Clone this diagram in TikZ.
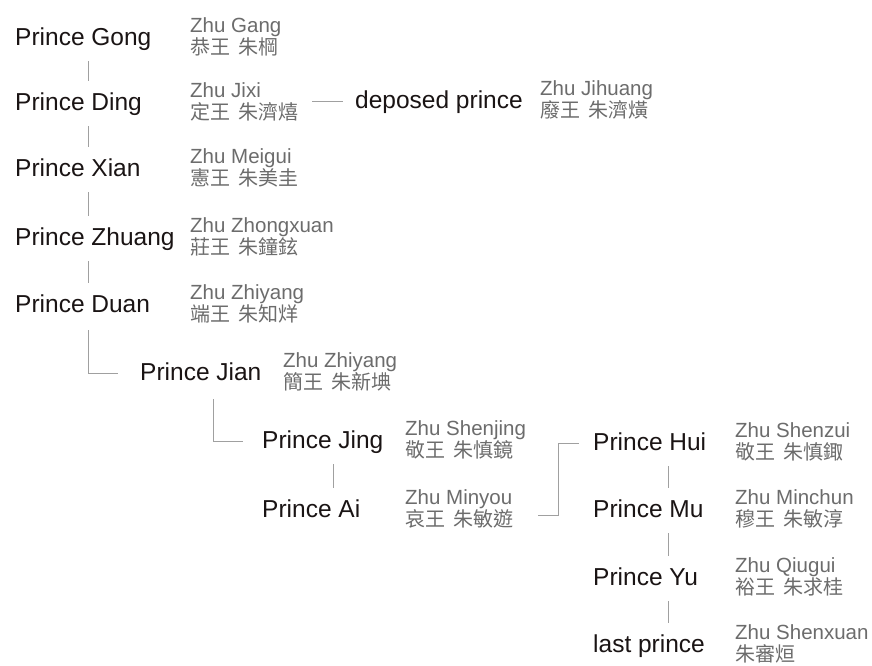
\documentclass[tikz,border=0pt]{standalone}
\usepackage{fontspec}
\setmainfont{Liberation Sans}
\newfontfamily\cjk{Noto Sans CJK TC}[WordSpace=1.8]
\definecolor{ink}{HTML}{1A1414}
\definecolor{grey}{HTML}{6C6C6C}
\definecolor{linegrey}{HTML}{A0A0A0}
\tikzset{
  prince/.style={anchor=base west, inner sep=0pt, text height=18pt, text depth=5pt, text=ink, font=\fontsize{24.5}{29}\selectfont},
  latname/.style={anchor=base west, inner sep=0pt, text=grey, font=\fontsize{20.5}{24}\selectfont},
  hanname/.style={anchor=base west, inner sep=0pt, text=grey, font=\cjk\fontsize{20}{24}\selectfont},
  link/.style={draw=linegrey, line width=1pt},
  vlink/.style={link, shorten <=11pt, shorten >=11pt},
}
\begin{document}
\begin{tikzpicture}[x=1pt,y=-1pt]
\fill[white] (0,0) rectangle (872,665);
\useasboundingbox (0,0) rectangle (872,665);

% main column
\node[prince] (gong) at (15,45) {Prince Gong};
\node[latname] (gongEn) at (190,32.5) {Zhu Gang};
\node[hanname] (gongZh) at (190,54) {恭王 朱棡};

\node[prince] (ding) at (15,110) {Prince Ding};
\node[latname] (dingEn) at (190,97.5) {Zhu Jixi};
\node[hanname] (dingZh) at (190,119) {定王 朱濟熺};

\node[prince] (xian) at (15,176) {Prince Xian};
\node[latname] (xianEn) at (190,163.5) {Zhu Meigui};
\node[hanname] (xianZh) at (190,185) {憲王 朱美圭};

\node[prince] (zhuang) at (15,245) {Prince Zhuang};
\node[latname] (zhuangEn) at (190,232.5) {Zhu Zhongxuan};
\node[hanname] (zhuangZh) at (190,254) {莊王 朱鐘鉉};

\node[prince] (duan) at (15,312) {Prince Duan};
\node[latname] (duanEn) at (190,299.5) {Zhu Zhiyang};
\node[hanname] (duanZh) at (190,321) {端王 朱知烊};

\node[prince] (jian) at (140,380) {Prince Jian};
\node[latname] (jianEn) at (283,367.5) {Zhu Zhiyang};
\node[hanname] (jianZh) at (283,389) {簡王 朱新㙉};

\node[prince] (jing) at (262,448) {Prince Jing};
\node[latname] (jingEn) at (405,435.5) {Zhu Shenjing};
\node[hanname] (jingZh) at (405,457) {敬王 朱慎鏡};

\node[prince] (ai) at (262,517) {Prince Ai};
\node[latname] (aiEn) at (405,504.5) {Zhu Minyou};
\node[hanname] (aiZh) at (405,526) {哀王 朱敏遊};

% deposed branch
\node[prince] (deposed) at (355,108) {deposed prince};
\node[latname] (deposedEn) at (540,95.5) {Zhu Jihuang};
\node[hanname] (deposedZh) at (540,117) {廢王 朱濟熿};

% right column
\node[prince] (hui) at (593,450) {Prince Hui};
\node[latname] (huiEn) at (735,437.5) {Zhu Shenzui};
\node[hanname] (huiZh) at (735,459) {敬王 朱慎鋷};

\node[prince] (mu) at (593,517) {Prince Mu};
\node[latname] (muEn) at (735,504.5) {Zhu Minchun};
\node[hanname] (muZh) at (735,526) {穆王 朱敏淳};

\node[prince] (yu) at (593,585) {Prince Yu};
\node[latname] (yuEn) at (735,572.5) {Zhu Qiugui};
\node[hanname] (yuZh) at (735,594) {裕王 朱求桂};

\node[prince] (last) at (593,652) {last prince};
\node[latname] (lastEn) at (735,639.5) {Zhu Shenxuan};
\node[hanname] (lastZh) at (735,661) {朱審烜};

% connector guides
\coordinate (colA) at (88,0);
\coordinate (colJ) at (213,0);
\coordinate (colB) at (333,0);
\coordinate (hubX) at (558,0);
\coordinate (colC) at (668,0);
\coordinate (aiOut) at (538,515);

% connectors
\draw[vlink] (gong.south -| colA) -- (ding.north -| colA);
\draw[vlink] (ding.south -| colA) -- (xian.north -| colA);
\draw[vlink] (xian.south -| colA) -- (zhuang.north -| colA);
\draw[vlink] (zhuang.south -| colA) -- (duan.north -| colA);
\draw[link, shorten <=13pt] (duan.south -| colA) |- ([xshift=-22pt]jian.west);
\draw[link, shorten <=14pt] (jian.south -| colJ) |- ([xshift=-19pt]jing.west);
\draw[vlink] (jing.south -| colB) -- (ai.north -| colB);
\draw[link] ([xshift=-43pt]deposed.west) -- ([xshift=-12pt]deposed.west);
\draw[link] (aiOut) -- (aiOut -| hubX) |- ([xshift=-14pt]hui.west);
\draw[vlink] (hui.south -| colC) -- (mu.north -| colC);
\draw[vlink] (mu.south -| colC) -- (yu.north -| colC);
\draw[vlink] (yu.south -| colC) -- (last.north -| colC);
\end{tikzpicture}
\end{document}
